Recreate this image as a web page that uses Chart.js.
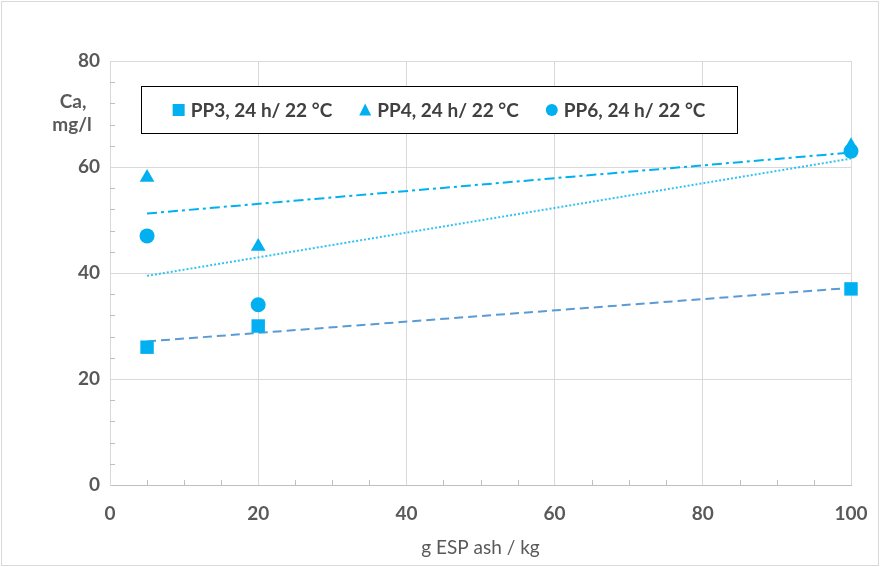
<!DOCTYPE html>
<html>
<head>
<meta charset="utf-8">
<script src="https://cdn.jsdelivr.net/npm/chart.js@4/dist/chart.umd.min.js"></script>
<style>
  html, body { margin: 0; padding: 0; background: #ffffff; }
  #wrap { width: 880px; height: 567px; position: relative; }
</style>
</head>
<body>
<div id="wrap"><canvas id="c" width="880" height="567"></canvas></div>
<script>
// Ca concentration in leachate vs. ESP ash dose
const ashDose = [5, 20, 100];            // g ESP ash / kg
const caPP3 = [26, 30, 37];              // mg/l
const caPP4 = [58, 45, 64];
const caPP6 = [47, 34, 63];
const seriesLabels = ['PP3, 24 h/ 22 °C', 'PP4, 24 h/ 22 °C', 'PP6, 24 h/ 22 °C'];
const xTicks = [0, 20, 40, 60, 80, 100];
const yTicks = [0, 20, 40, 60, 80];
const xTitle = 'g ESP ash / kg';
const yTitleLines = ['Ca,', 'mg/l'];

const FONT = 'Lato, "Open Sans", sans-serif';
const TEXT = '#595959';
const MARK = '#00B0F0';

// least-squares trend line over the measured dose range
function trend(xs, ys) {
  const n = xs.length;
  const mx = xs.reduce((a, b) => a + b, 0) / n;
  const my = ys.reduce((a, b) => a + b, 0) / n;
  let sxy = 0, sxx = 0;
  for (let i = 0; i < n; i++) {
    sxy += (xs[i] - mx) * (ys[i] - my);
    sxx += (xs[i] - mx) * (xs[i] - mx);
  }
  const b = sxy / sxx, a = my - b * mx;
  const x0 = Math.min(...xs), x1 = Math.max(...xs);
  return [{ x: x0, y: a + b * x0 }, { x: x1, y: a + b * x1 }];
}
const pts = ys => ashDose.map((x, i) => ({ x, y: ys[i] }));

const minorTicks = {
  id: 'minorTicks',
  beforeDatasetsDraw(chart) {
    const { ctx, chartArea: a, scales: { x, y } } = chart;
    ctx.save();
    ctx.strokeStyle = '#bfbfbf';
    ctx.lineWidth = 1;
    ctx.beginPath();
    for (let v = 0; v <= 80; v += 4) {
      if (v % 20 === 0) continue;
      const py = Math.round(y.getPixelForValue(v)) + 0.5;
      ctx.moveTo(a.left, py); ctx.lineTo(a.left + 5, py);
    }
    for (let v = 0; v <= 100; v += 5) {
      if (v % 20 === 0) continue;
      const px = Math.round(x.getPixelForValue(v)) + 0.5;
      ctx.moveTo(px, a.bottom); ctx.lineTo(px, a.bottom - 5);
    }
    ctx.stroke();
    ctx.restore();
  }
};

function drawMarker(ctx, style, cx, cy, s) {
  ctx.beginPath();
  if (style === 'rect') {
    ctx.rect(cx - s / 2, cy - s / 2, s, s);
  } else if (style === 'triangle') {
    const h = s * 0.9;
    ctx.moveTo(cx, cy - h / 2 - 1);
    ctx.lineTo(cx + s / 2, cy + h / 2);
    ctx.lineTo(cx - s / 2, cy + h / 2);
    ctx.closePath();
  } else {
    ctx.arc(cx, cy, s / 2, 0, Math.PI * 2);
  }
  ctx.fill();
}

const overlay = {
  id: 'overlay',
  afterDraw(chart) {
    const { ctx } = chart;
    ctx.save();
    // outer frame
    ctx.strokeStyle = '#d9d9d9';
    ctx.lineWidth = 1;
    ctx.strokeRect(1.5, 1.5, 877, 564);

    // y axis caption
    ctx.fillStyle = TEXT;
    ctx.font = 'bold 19px ' + FONT;
    ctx.textAlign = 'center';
    ctx.textBaseline = 'middle';
    ctx.fillText(yTitleLines[0], 73, 102);
    ctx.fillText(yTitleLines[1], 72, 125);

    // legend box
    const bx = 141, by = 86, bw = 596, bh = 47;
    ctx.fillStyle = '#ffffff';
    ctx.fillRect(bx, by, bw, bh);
    ctx.strokeStyle = '#000000';
    ctx.strokeRect(bx + 0.5, by + 0.5, bw, bh);

    ctx.font = 'bold 19px ' + FONT;
    ctx.textAlign = 'left';
    const items = chart.data.datasets.filter(d => d.legendItem);
    const mw = 12, gap = 6, itemGap = 27;
    const widths = items.map(d => ctx.measureText(d.label).width);
    const total = widths.reduce((s, w) => s + mw + gap + w, 0) + itemGap * (items.length - 1);
    let cx = bx + (bw - total) / 2;
    const cy = by + bh / 2 + 0.5;
    items.forEach((d, i) => {
      ctx.fillStyle = d.backgroundColor;
      drawMarker(ctx, d.pointStyle, cx + mw / 2, cy, mw);
      ctx.fillStyle = '#404040';
      ctx.fillText(d.label, cx + mw + gap, cy + 1);
      cx += mw + gap + widths[i] + itemGap;
    });
    ctx.restore();
  }
};

new Chart(document.getElementById('c'), {
  type: 'scatter',
  data: {
    datasets: [
      { label: seriesLabels[0], data: pts(caPP3), pointStyle: 'rect', pointRadius: 9.5, clip: false,
        backgroundColor: MARK, borderColor: MARK, borderWidth: 0, order: 2, legendItem: true },
      { label: seriesLabels[1], data: pts(caPP4), pointStyle: 'triangle', pointRadius: 8.5, clip: false,
        backgroundColor: MARK, borderColor: MARK, borderWidth: 0, order: 1, legendItem: true },
      { label: seriesLabels[2], data: pts(caPP6), pointStyle: 'circle', pointRadius: 7.5, clip: false,
        backgroundColor: MARK, borderColor: MARK, borderWidth: 0, order: 0, legendItem: true },
      { type: 'line', label: 'trend PP3', data: trend(ashDose, caPP3), borderColor: '#5B9BD5',
        borderWidth: 2, borderDash: [9, 5], pointRadius: 0, fill: false, order: 10 },
      { type: 'line', label: 'trend PP4', data: trend(ashDose, caPP4), borderColor: '#00B0F0',
        borderWidth: 2, borderDash: [10, 4, 3, 4], pointRadius: 0, fill: false, order: 10 },
      { type: 'line', label: 'trend PP6', data: trend(ashDose, caPP6), borderColor: '#33C1F2',
        borderWidth: 2, borderDash: [2, 2], pointRadius: 0, fill: false, order: 10 }
    ]
  },
  options: {
    responsive: false,
    animation: false,
    devicePixelRatio: 1,
    layout: { padding: { top: 61, right: 29, left: 0, bottom: 0 } },
    plugins: { legend: { display: false }, tooltip: { enabled: false } },
    scales: {
      x: {
        type: 'linear', min: 0, max: 100,
        afterBuildTicks: s => { s.ticks = xTicks.map(v => ({ value: v })); },
        afterFit: s => { s.height = 82; s.paddingLeft = 0; s.paddingRight = 0; },
        ticks: { color: TEXT, font: { family: FONT, size: 19, weight: 'bold' }, padding: 17 },
        grid: { color: '#d9d9d9', lineWidth: 1, drawTicks: false },
        border: { color: '#bfbfbf' },
        title: { display: true, text: xTitle, color: TEXT,
                 font: { family: FONT, size: 19 }, padding: { top: 0, bottom: 8 } }
      },
      y: {
        type: 'linear', min: 0, max: 80,
        afterBuildTicks: s => { s.ticks = yTicks.map(v => ({ value: v })); },
        afterFit: s => { s.width = 110; s.paddingTop = 0; s.paddingBottom = 0; },
        ticks: { color: TEXT, font: { family: FONT, size: 19, weight: 'bold' }, padding: 10 },
        grid: { color: '#d9d9d9', lineWidth: 1, drawTicks: false },
        border: { color: '#d9d9d9' }
      }
    }
  },
  plugins: [minorTicks, overlay]
});
</script>
</body>
</html>
